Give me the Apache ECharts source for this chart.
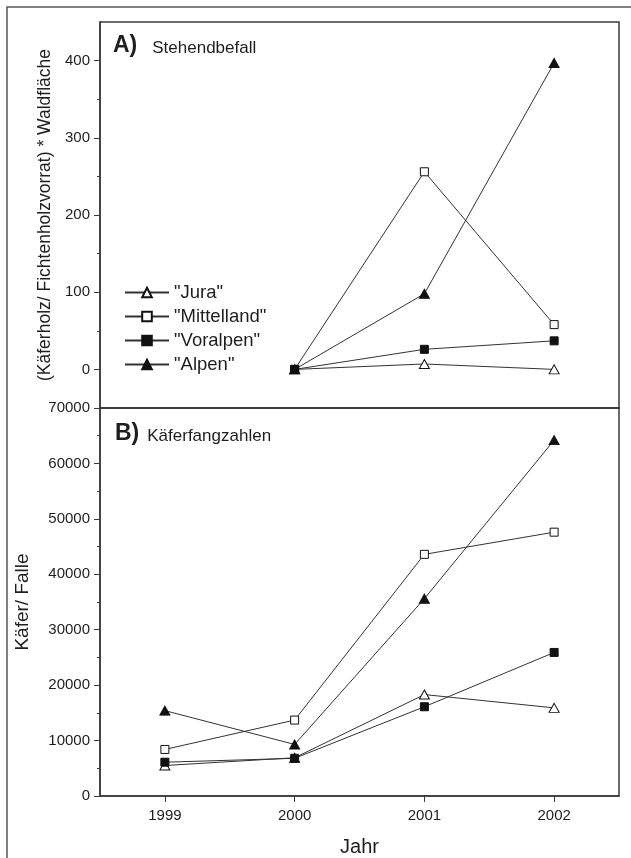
<!DOCTYPE html>
<html>
<head>
<meta charset="utf-8">
<script src="https://cdn.jsdelivr.net/npm/echarts@6/dist/echarts.min.js"></script>
<style>
html,body{margin:0;padding:0;background:#fff;}
#chart{width:631px;height:858px;}
</style>
</head>
<body>
<div id="chart"></div>
<script>
const years = ['1999', '2000', '2001', '2002'];
const seriesNames = ['"Jura"', '"Mittelland"', '"Voralpen"', '"Alpen"'];

// Panel A: Stehendbefall
const juraA = [null, 0, 7, 0];
const mittellandA = [null, 0, 256, 58];
const voralpenA = [null, 0, 26, 37];
const alpenA = [null, 0, 98, 397];

// Panel B: Käferfangzahlen
const juraB = [5500, 6900, 18300, 15900];
const mittellandB = [8400, 13700, 43600, 47600];
const voralpenB = [6100, 6800, 16100, 25900];
const alpenB = [15400, 9300, 35600, 64200];

const ticksA = [0, 100, 200, 300, 400];
const minorTicksA = [50, 150, 250, 350];

const FONT = 'Liberation Sans, Arial, sans-serif';
const AX = '#3a3a3a';
const TXT = '#1e1e1e';

const styles = [
  {symbol: 'triangle', symbolSize: [10, 9], itemStyle: {color: '#fff', borderColor: '#111', borderWidth: 1}},
  {symbol: 'rect', symbolSize: 8, itemStyle: {color: '#fff', borderColor: '#111', borderWidth: 1}},
  {symbol: 'rect', symbolSize: 8, itemStyle: {color: '#111', borderColor: '#111', borderWidth: 1}},
  {symbol: 'triangle', symbolSize: [10, 9], itemStyle: {color: '#111', borderColor: '#111', borderWidth: 1}}
];

function mk(name, data, idx, gi) {
  return Object.assign({
    name: name,
    type: 'line',
    xAxisIndex: gi,
    yAxisIndex: gi === 0 ? 0 : 2,
    data: data,
    lineStyle: {color: '#333', width: 1},
    showAllSymbol: true,
    emphasis: {disabled: true},
    z: 3
  }, styles[idx]);
}

const plain = function (v) { return String(v); };

const chart = echarts.init(document.getElementById('chart'));
chart.setOption({
  animation: false,
  backgroundColor: '#fff',
  textStyle: {fontFamily: FONT},
  graphic: [{
    type: 'rect',
    shape: {x: 7, y: 7, width: 700, height: 900},
    style: {fill: 'none', stroke: '#555', lineWidth: 1.5},
    silent: true
  }],
  title: [
    {
      left: 113, top: 34, padding: 0,
      text: '{b|A)}{n|Stehendbefall}',
      textStyle: {
        fontWeight: 'normal',
        rich: {
          b: {fontSize: 23, fontWeight: 'bold', color: TXT, fontFamily: FONT, verticalAlign: 'bottom'},
          n: {fontSize: 17, fontWeight: 'normal', color: TXT, fontFamily: FONT, padding: [0, 0, 0, 15], verticalAlign: 'bottom'}
        }
      }
    },
    {
      left: 115, top: 422, padding: 0,
      text: '{b|B)}{n|Käferfangzahlen}',
      textStyle: {
        fontWeight: 'normal',
        rich: {
          b: {fontSize: 23, fontWeight: 'bold', color: TXT, fontFamily: FONT, verticalAlign: 'bottom'},
          n: {fontSize: 17, fontWeight: 'normal', color: TXT, fontFamily: FONT, padding: [0, 0, 0, 8], verticalAlign: 'bottom'}
        }
      }
    }
  ],
  legend: {
    data: seriesNames,
    orient: 'vertical',
    left: 124, top: 283, padding: 0,
    itemWidth: 44, itemHeight: 12, itemGap: 5,
    selectedMode: false,
    textStyle: {fontSize: 18.5, color: TXT, fontFamily: FONT, lineHeight: 18.5}
  },
  grid: [
    {left: 100, right: 12, top: 22, height: 386, show: true, borderColor: AX, borderWidth: 1.5, backgroundColor: 'transparent'},
    {left: 100, right: 12, top: 408, height: 389, show: true, borderColor: AX, borderWidth: 1.5, backgroundColor: 'transparent'}
  ],
  xAxis: [
    {
      type: 'category', gridIndex: 0, data: years, boundaryGap: true, position: 'bottom',
      axisLine: {show: true, onZero: false, lineStyle: {color: AX, width: 1.5}},
      axisTick: {show: false}, axisLabel: {show: false}, splitLine: {show: false}
    },
    {
      type: 'category', gridIndex: 1, data: years, boundaryGap: true, position: 'bottom',
      name: 'Jahr', nameLocation: 'middle', nameGap: 41,
      nameTextStyle: {fontSize: 20, color: TXT, fontFamily: FONT},
      axisLine: {show: true, onZero: false, lineStyle: {color: AX, width: 1.5}},
      axisTick: {show: true, alignWithLabel: true, length: 6, lineStyle: {color: AX, width: 1}},
      axisLabel: {fontSize: 15, color: TXT, margin: 12, fontFamily: FONT},
      splitLine: {show: false}
    }
  ],
  yAxis: [
    {
      type: 'value', gridIndex: 0, min: -50, max: 450, position: 'left',
      name: '(Käferholz/ Fichtenholzvorrat) * Waldfläche',
      nameLocation: 'middle', nameGap: 39,
      nameTextStyle: {fontSize: 17.5, color: TXT, fontFamily: FONT},
      axisLine: {show: true, onZero: false, lineStyle: {color: AX, width: 1.5}},
      axisTick: {show: true, length: 6, customValues: ticksA, lineStyle: {color: AX, width: 1}},
      axisLabel: {fontSize: 15, color: TXT, margin: 10, customValues: ticksA, fontFamily: FONT, formatter: plain},
      splitLine: {show: false}
    },
    {
      type: 'value', gridIndex: 0, min: -50, max: 450, position: 'left', offset: 0,
      axisLine: {show: false, onZero: false},
      axisTick: {show: true, length: 3, customValues: minorTicksA, lineStyle: {color: AX, width: 1}},
      axisLabel: {show: false, customValues: minorTicksA},
      splitLine: {show: false}
    },
    {
      type: 'value', gridIndex: 1, min: 0, max: 70000, interval: 10000, position: 'left',
      name: 'Käfer/ Falle', nameLocation: 'middle', nameGap: 68,
      nameTextStyle: {fontSize: 19, color: TXT, fontFamily: FONT},
      axisLine: {show: true, onZero: false, lineStyle: {color: AX, width: 1.5}},
      axisTick: {show: true, length: 6, lineStyle: {color: AX, width: 1}},
      minorTick: {show: true, splitNumber: 2, length: 3, lineStyle: {color: AX, width: 1}},
      axisLabel: {fontSize: 15, color: TXT, margin: 10, fontFamily: FONT, formatter: plain},
      splitLine: {show: false}
    }
  ],
  series: [
    mk(seriesNames[0], juraA, 0, 0),
    mk(seriesNames[1], mittellandA, 1, 0),
    mk(seriesNames[2], voralpenA, 2, 0),
    mk(seriesNames[3], alpenA, 3, 0),
    mk(seriesNames[0], juraB, 0, 1),
    mk(seriesNames[1], mittellandB, 1, 1),
    mk(seriesNames[2], voralpenB, 2, 1),
    mk(seriesNames[3], alpenB, 3, 1)
  ]
});
</script>
</body>
</html>
